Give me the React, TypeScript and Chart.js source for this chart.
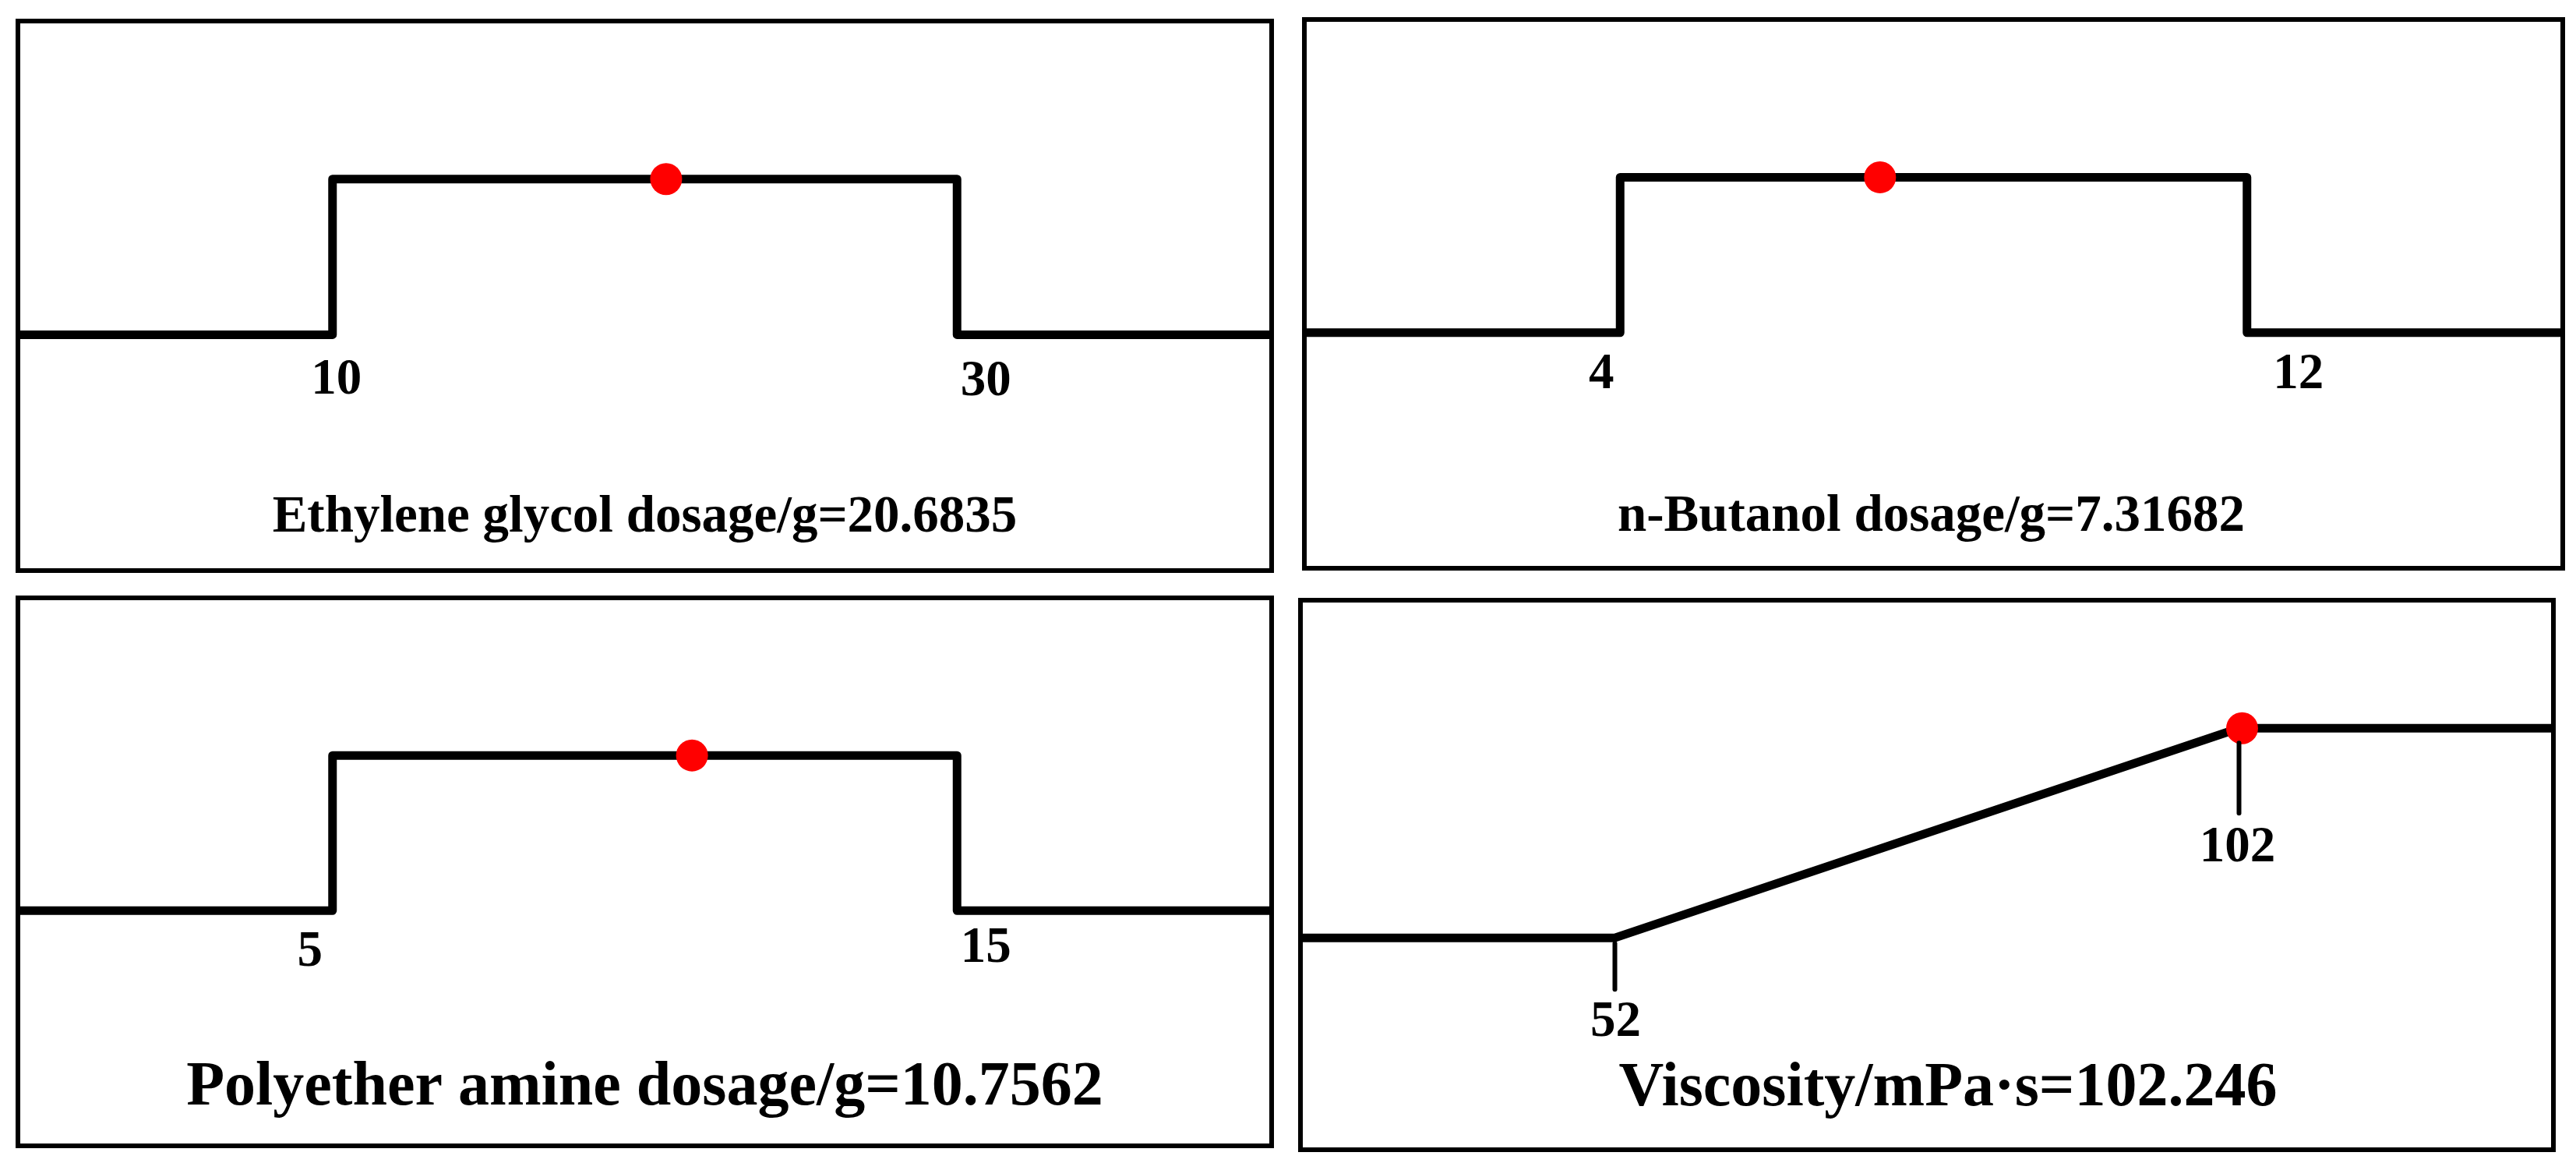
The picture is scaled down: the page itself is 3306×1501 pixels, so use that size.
import React, { useEffect, useRef } from "react";
import { Chart, registerables } from "chart.js";

Chart.register(...registerables);

// ---------------- data ----------------
const FACTOR_NAMES = [
  "Ethylene glycol dosage/g",
  "n-Butanol dosage/g",
  "Polyether amine dosage/g",
  "Viscosity/mPa·s",
];
const LOWER_LIMITS = [10, 4, 5, 52];
const UPPER_LIMITS = [30, 12, 15, 102];
const GOALS = ["in range", "in range", "in range", "maximize"];
const OPTIMUM_VALUES = [20.6835, 7.31682, 10.7562, 102.246];
const OPTIMUM_DESIRABILITY = [1, 1, 1, 1];

// ---------------- layout / style ----------------
const PANEL_RECTS = [
  { left: 20, top: 24, width: 1615, height: 711 },
  { left: 1671, top: 22, width: 1621, height: 710 },
  { left: 20, top: 764, width: 1615, height: 709 },
  { left: 1666, top: 767, width: 1614, height: 711 },
];
const BORDER = 6;
const Y_RANGES = [
  [-1.5, 2],
  [-1.5, 2],
  [-1.5, 2],
  [-1, 1.6],
];
const TITLE_STYLE = [
  { size: 67, dx: 0, y: 652 },
  { size: 67, dx: -3, y: 653 },
  { size: 80, dx: 0, y: 647 },
  { size: 80, dx: 27, y: 645 },
];
const TICK_FONT_SIZE = 65;
const TICK_STYLE = [
  { dx: [5, 37], dy: [76, 78], marks: null },
  { dx: [-24, 66], dy: [71, 71], marks: null },
  { dx: [-29, 37], dy: [71, 66], marks: null },
  { dx: [1, -2], dy: [126, 171], marks: [[7, 66], [19, 109]] },
];
const LINE_WIDTH = 11;
const MARK_WIDTH = 6;
const DOT_RADIUS = 20.5;
const FONT_FAMILY = "'Liberation Serif', 'Times New Roman', serif";

function rampPoints(i: number) {
  const lo = LOWER_LIMITS[i];
  const hi = UPPER_LIMITS[i];
  const span = hi - lo;
  const xmin = lo - span / 2;
  const xmax = hi + span / 2;
  if (GOALS[i] === "maximize") {
    return [
      { x: xmin, y: 0 },
      { x: lo, y: 0 },
      { x: hi, y: 1 },
      { x: xmax, y: 1 },
    ];
  }
  return [
    { x: xmin, y: 0 },
    { x: lo, y: 0 },
    { x: lo, y: 1 },
    { x: hi, y: 1 },
    { x: hi, y: 0 },
    { x: xmax, y: 0 },
  ];
}

// desirability level the limit label hangs from
function labelAnchor(i: number, v: number) {
  if (GOALS[i] === "maximize") {
    const lo = LOWER_LIMITS[i];
    const hi = UPPER_LIMITS[i];
    if (v <= lo) return 0;
    if (v >= hi) return 1;
    return (v - lo) / (hi - lo);
  }
  return 0;
}

function Panel({ idx }: { idx: number }) {
  const ref = useRef<HTMLCanvasElement>(null);
  const rect = PANEL_RECTS[idx];
  const w = rect.width - 2 * BORDER;
  const h = rect.height - 2 * BORDER;

  useEffect(() => {
    if (!ref.current) return;
    const lo = LOWER_LIMITS[idx];
    const hi = UPPER_LIMITS[idx];
    const span = hi - lo;

    const annotatePlugin = {
      id: "annotate" + idx,
      afterDatasetsDraw(chart: any) {
        const ctx = chart.ctx;
        const xs = chart.scales.x;
        const ys = chart.scales.y;
        const ts = TICK_STYLE[idx];
        ctx.save();
        ctx.fillStyle = "#000";
        ctx.strokeStyle = "#000";
        ctx.font = `bold ${TICK_FONT_SIZE}px ${FONT_FAMILY}`;
        ctx.textAlign = "center";
        ctx.textBaseline = "alphabetic";
        [lo, hi].forEach((v, k) => {
          const px = xs.getPixelForValue(v);
          const py = ys.getPixelForValue(labelAnchor(idx, v));
          if (ts.marks) {
            ctx.lineWidth = MARK_WIDTH;
            ctx.lineCap = "round";
            ctx.beginPath();
            ctx.moveTo(px, py + ts.marks[k][0]);
            ctx.lineTo(px, py + ts.marks[k][1]);
            ctx.stroke();
          }
          ctx.fillText(String(v), px + ts.dx[k], py + ts.dy[k]);
        });
        const tStyle = TITLE_STYLE[idx];
        ctx.font = `bold ${tStyle.size}px ${FONT_FAMILY}`;
        const area = chart.chartArea;
        ctx.fillText(
          `${FACTOR_NAMES[idx]}=${OPTIMUM_VALUES[idx]}`,
          (area.left + area.right) / 2 + tStyle.dx,
          area.top + tStyle.y
        );
        ctx.restore();
      },
    };

    const chart = new Chart(ref.current, {
      type: "line",
      data: {
        datasets: [
          {
            type: "scatter",
            data: [{ x: OPTIMUM_VALUES[idx], y: OPTIMUM_DESIRABILITY[idx] }],
            pointRadius: DOT_RADIUS,
            pointBackgroundColor: "#ff0000",
            pointBorderWidth: 0,
            pointBorderColor: "#ff0000",
          } as any,
          {
            data: rampPoints(idx),
            borderColor: "#000000",
            borderWidth: LINE_WIDTH,
            borderJoinStyle: "round",
            borderCapStyle: "butt",
            pointRadius: 0,
            tension: 0,
            fill: false,
          },
        ],
      },
      options: {
        animation: false,
        responsive: false,
        events: [],
        layout: { padding: 0, autoPadding: false },
        plugins: { legend: { display: false }, tooltip: { enabled: false }, title: { display: false } },
        scales: {
          x: { type: "linear", min: lo - span / 2, max: hi + span / 2, display: false },
          y: { type: "linear", min: Y_RANGES[idx][0], max: Y_RANGES[idx][1], display: false },
        },
      },
      plugins: [annotatePlugin],
    });
    return () => chart.destroy();
  }, [idx]);

  return (
    <div
      style={{
        position: "absolute",
        left: rect.left,
        top: rect.top,
        width: rect.width,
        height: rect.height,
        border: `${BORDER}px solid #000`,
        boxSizing: "border-box",
        background: "#fff",
      }}
    >
      <canvas ref={ref} width={w} height={h} style={{ display: "block", width: w, height: h }} />
    </div>
  );
}

export default function App() {
  return (
    <div style={{ position: "absolute", left: 0, top: 0, width: 3306, height: 1501, background: "#fff" }}>
      {FACTOR_NAMES.map((_, i) => (
        <Panel key={i} idx={i} />
      ))}
    </div>
  );
}
